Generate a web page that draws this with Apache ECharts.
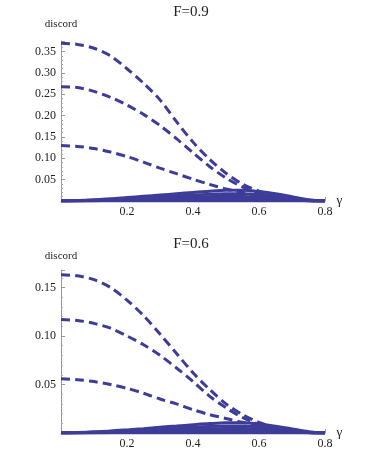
<!DOCTYPE html>
<html>
<head>
<meta charset="utf-8">
<script src="https://cdn.jsdelivr.net/npm/echarts@6/dist/echarts.min.js"></script>
<style>
  html, body { margin: 0; padding: 0; background: #fff; }
  #chart { width: 382px; height: 450px; }
</style>
</head>
<body>
<div id="chart"></div>
<script>
// gamma grid shared by every curve
const gammas = [0, 0.05, 0.1, 0.15, 0.2, 0.25, 0.3, 0.35, 0.4, 0.45, 0.5, 0.55, 0.6, 0.65, 0.7, 0.75, 0.8]

// F=0.9 panel
const f9Dashed1 = [0.370, 0.367, 0.358, 0.340, 0.310, 0.276, 0.237, 0.186, 0.138, 0.098, 0.065, 0.040, 0.023, 0.012, 0.005, 0.001, 0]
const f9Dashed2 = [0.268, 0.266, 0.257, 0.243, 0.225, 0.203, 0.177, 0.146, 0.113, 0.081, 0.054, 0.033, 0.018, 0.008, 0.003, 0.0005, 0]
const f9Dashed3 = [0.130, 0.128, 0.123, 0.115, 0.104, 0.091, 0.077, 0.064, 0.051, 0.039, 0.028, 0.020, 0.012, 0.006, 0.002, 0.0005, 0]
const f9Solid1 = [0, 0.001, 0.003, 0.005, 0.008, 0.011, 0.014, 0.017, 0.020, 0.023, 0.025, 0.025, 0.022, 0.017, 0.010, 0.003, 0]
const f9Solid2 = [0, 0.0007, 0.002, 0.0035, 0.0056, 0.0077, 0.0098, 0.012, 0.014, 0.0158, 0.017, 0.017, 0.015, 0.0115, 0.0066, 0.002, 0]
const f9Solid3 = [0, 0.0005, 0.0013, 0.0022, 0.0036, 0.005, 0.0063, 0.0077, 0.009, 0.0100, 0.0108, 0.0108, 0.0096, 0.0073, 0.0042, 0.0013, 0]
const f9Solid4 = [0, 0.0002, 0.0007, 0.0011, 0.0018, 0.0024, 0.0031, 0.0037, 0.0044, 0.0048, 0.0053, 0.0053, 0.0046, 0.0035, 0.002, 0.0007, 0]
const f9Solid5 = [0, 0, 0, 0, 0, 0, 0, 0, 0, 0, 0, 0, 0, 0, 0, 0, 0]

// F=0.6 panel
const f6Dashed1 = [0.163, 0.162, 0.158, 0.150, 0.137, 0.121, 0.102, 0.082, 0.062, 0.045, 0.030, 0.019, 0.011, 0.0055, 0.002, 0.0005, 0]
const f6Dashed2 = [0.117, 0.116, 0.113, 0.108, 0.100, 0.091, 0.080, 0.067, 0.053, 0.038, 0.026, 0.016, 0.009, 0.0042, 0.0015, 0.0003, 0]
const f6Dashed3 = [0.056, 0.055, 0.053, 0.050, 0.046, 0.041, 0.035, 0.030, 0.024, 0.019, 0.015, 0.011, 0.008, 0.005, 0.002, 0.0005, 0]
const f6Solid1 = [0, 0.0005, 0.0012, 0.002, 0.0032, 0.0045, 0.006, 0.0072, 0.0085, 0.0097, 0.0105, 0.0105, 0.0093, 0.007, 0.0042, 0.0014, 0]
const f6Solid2 = [0, 0.0003, 0.0008, 0.0014, 0.0022, 0.0031, 0.0042, 0.005, 0.006, 0.0067, 0.0072, 0.0072, 0.0064, 0.0049, 0.0029, 0.0009, 0]
const f6Solid3 = [0, 0.0002, 0.0005, 0.0009, 0.0014, 0.002, 0.0027, 0.0032, 0.0038, 0.0043, 0.0046, 0.0046, 0.0041, 0.0031, 0.0018, 0.0006, 0]
const f6Solid4 = [0, 0.0001, 0.0003, 0.0004, 0.0007, 0.001, 0.0013, 0.0016, 0.0019, 0.0021, 0.0022, 0.0022, 0.002, 0.0015, 0.0009, 0.0003, 0]
const f6Solid5 = [0, 0, 0, 0, 0, 0, 0, 0, 0, 0, 0, 0, 0, 0, 0, 0, 0]

const titles = ['F=0.9', 'F=0.6']
const lineColor = '#3d3d99'
const serif = '"Liberation Serif", "DejaVu Serif", serif'

function pairs(values) {
  return gammas.map((g, i) => [g, values[i]])
}

function dashed(values, idx) {
  return {
    type: 'line',
    xAxisIndex: idx,
    yAxisIndex: idx,
    smooth: 0.3,
    showSymbol: false,
    silent: true,
    lineStyle: { color: lineColor, width: 3, type: [9, 5] },
    data: pairs(values)
  }
}

function solid(values, idx) {
  return {
    type: 'line',
    xAxisIndex: idx,
    yAxisIndex: idx,
    smooth: 0.3,
    showSymbol: false,
    silent: true,
    lineStyle: { color: lineColor, width: 3 },
    data: pairs(values)
  }
}

function xAxis(idx) {
  return {
    type: 'value',
    gridIndex: idx,
    min: 0,
    max: 0.8,
    interval: 0.2,
    name: 'γ',
    nameLocation: 'end',
    nameGap: 11,
    nameTextStyle: { fontFamily: serif, fontSize: 13, color: '#222', verticalAlign: 'middle', padding: [6, 0, 0, 0] },
    axisLine: { lineStyle: { color: '#999', width: 1 } },
    axisTick: { inside: true, length: 4, lineStyle: { color: '#999' } },
    minorTick: { show: true, splitNumber: 4, length: 2, lineStyle: { color: '#aaa' } },
    splitLine: { show: false },
    axisLabel: {
      showMinLabel: false,
      margin: 5,
      fontFamily: serif,
      fontSize: 12,
      color: '#222',
      formatter: v => v.toFixed(1)
    }
  }
}

function yAxis(idx, max, gap) {
  return {
    type: 'value',
    gridIndex: idx,
    min: 0,
    max: max,
    interval: 0.05,
    name: 'discord',
    nameLocation: 'end',
    nameGap: gap,
    nameTextStyle: { fontFamily: serif, fontSize: 11, color: '#222' },
    axisLine: { show: true, lineStyle: { color: '#999', width: 1 } },
    axisTick: { show: true, inside: true, length: 4, lineStyle: { color: '#999' } },
    minorTick: { show: true, splitNumber: 5, length: 2, lineStyle: { color: '#aaa' } },
    splitLine: { show: false },
    axisLabel: {
      showMinLabel: false,
      showMaxLabel: false,
      margin: 5,
      fontFamily: serif,
      fontSize: 12,
      color: '#222',
      formatter: v => v.toFixed(2)
    }
  }
}

const chart = echarts.init(document.getElementById('chart'))

chart.setOption({
  animation: false,
  backgroundColor: '#fff',
  title: [
    { text: titles[0], left: 'center', top: 0, textStyle: { fontFamily: serif, fontSize: 15, fontWeight: 'normal', color: '#222' } },
    { text: titles[1], left: 'center', top: 232, textStyle: { fontFamily: serif, fontSize: 15, fontWeight: 'normal', color: '#222' } }
  ],
  grid: [
    { left: 61, top: 41, width: 264, height: 160 },
    { left: 61, top: 270, width: 264, height: 163 }
  ],
  xAxis: [xAxis(0), xAxis(1)],
  yAxis: [yAxis(0, 0.375, 11), yAxis(1, 0.168, 8)],
  series: [
    solid(f9Solid5, 0), solid(f9Solid4, 0), solid(f9Solid3, 0), solid(f9Solid2, 0), solid(f9Solid1, 0),
    dashed(f9Dashed3, 0), dashed(f9Dashed2, 0), dashed(f9Dashed1, 0),
    solid(f6Solid5, 1), solid(f6Solid4, 1), solid(f6Solid3, 1), solid(f6Solid2, 1), solid(f6Solid1, 1),
    dashed(f6Dashed3, 1), dashed(f6Dashed2, 1), dashed(f6Dashed1, 1)
  ]
})
</script>
</body>
</html>
